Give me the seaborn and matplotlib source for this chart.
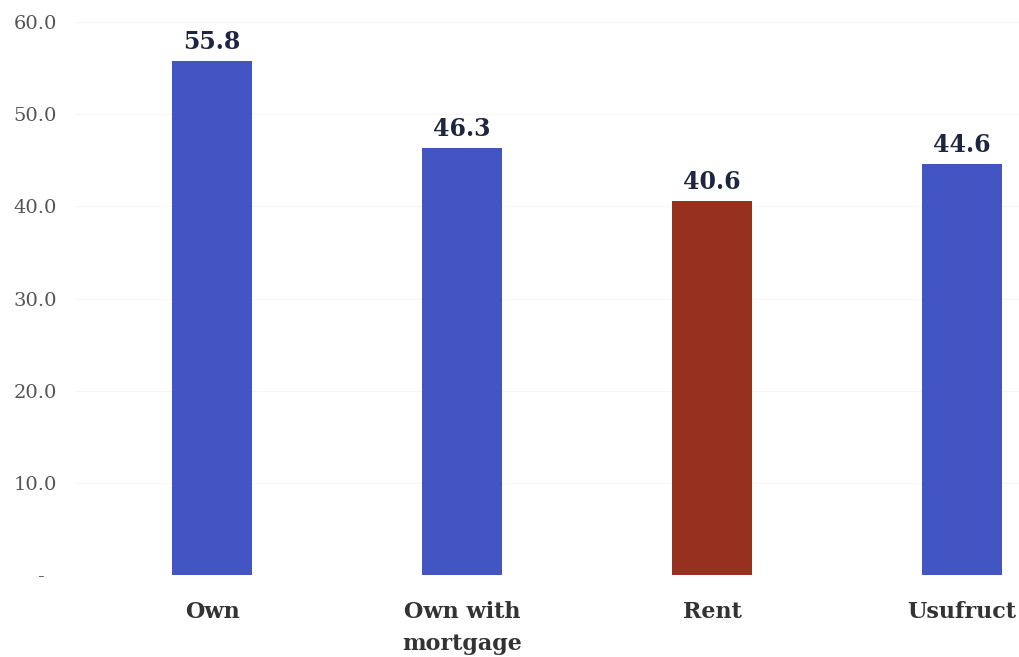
import matplotlib
matplotlib.use("Agg")
import matplotlib.pyplot as plt
import seaborn as sns
import pandas as pd

# Housing tenure categories and their values
categories = ["Own", "Own with\nmortgage", "Rent", "Usufruct"]
values = [55.8, 46.3, 40.6, 44.6]
bar_colors = ["#4355c3", "#4355c3", "#97311f", "#4355c3"]
y_ticks = [0, 10, 20, 30, 40, 50, 60]

sns.set_theme(style="white")
plt.rcParams["font.family"] = ["DejaVu Serif"]

df = pd.DataFrame({"tenure": categories, "value": values})

fig = plt.figure(figsize=(10.2, 6.57), dpi=100)
ax = fig.add_axes([75 / 1020, 82 / 657, 945 / 1020, 553 / 657])

sns.barplot(data=df, x="tenure", y="value", hue="tenure",
            palette=bar_colors, legend=False, width=0.32,
            saturation=1, linewidth=0, ax=ax)

ax.set_ylim(0, 60)
ax.set_xlim(-0.548, 3.232)
ax.set_yticks(y_ticks)
ax.set_yticklabels(["-  " if t == 0 else f"{t:.1f}" for t in y_ticks])
ax.grid(axis="y", color="#f6f6f6", linewidth=0.8)
ax.set_axisbelow(True)
ax.set_xlabel("")
ax.set_ylabel("")
for s in ax.spines.values():
    s.set_visible(False)
ax.tick_params(axis="y", length=0, labelsize=14, labelcolor="#555555", pad=13)
ax.tick_params(axis="x", length=0, labelsize=16, labelcolor="#333333", pad=19)
for lbl in ax.get_xticklabels():
    lbl.set_fontweight("bold")
    lbl.set_linespacing(1.55)

# Value labels above each bar
for i, v in enumerate(values):
    ax.annotate(f"{v:.1f}", xy=(i, v), xytext=(0, 5), textcoords="offset points",
                ha="center", va="bottom", fontsize=17, fontweight="bold",
                color="#1e2540")

fig.savefig("out.png", dpi=100)
